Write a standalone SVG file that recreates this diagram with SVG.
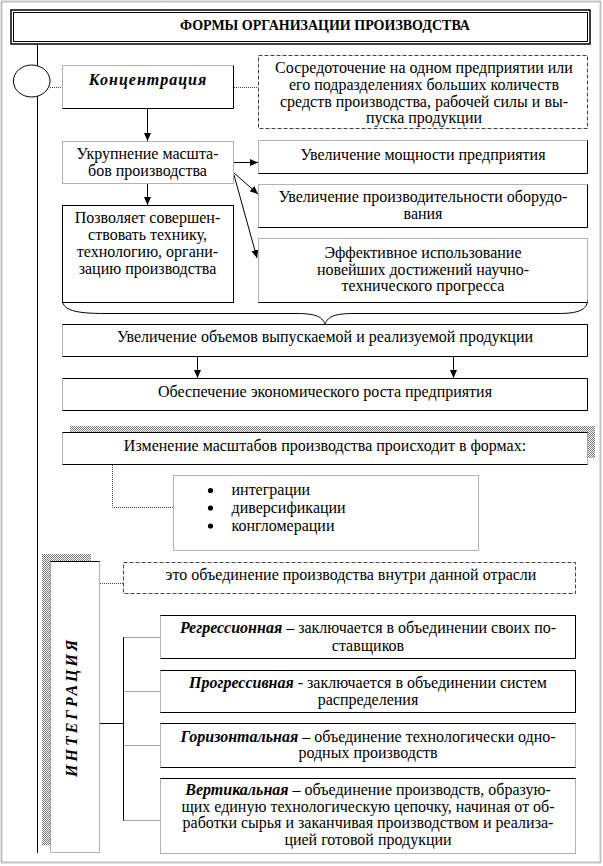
<svg xmlns="http://www.w3.org/2000/svg" width="603" height="866" viewBox="0 0 603 866">
<defs>
<pattern id="hatch" width="2" height="2" patternUnits="userSpaceOnUse"><rect width="2" height="2" fill="#fff"/><rect width="1" height="1" fill="#777"/><rect x="1" y="1" width="1" height="1" fill="#777"/></pattern>
<marker id="ar" viewBox="0 0 8 8" refX="8" refY="4" markerWidth="8" markerHeight="8" markerUnits="userSpaceOnUse" orient="auto"><path d="M0,0.5 L8,4 L0,7.5 Z" fill="#000"/></marker>
<style>
.bx{fill:#fff;stroke:#666;stroke-width:1;stroke-dasharray:1 1}
.sd{fill:none;stroke:#000;stroke-width:1}
.sb{fill:#fff;stroke:#000;stroke-width:1}
.ds{fill:#fff;stroke:#444;stroke-width:1;stroke-dasharray:4 2}
.t{font-family:'Liberation Serif','Times New Roman',serif;font-size:16px;fill:#000;text-anchor:middle}
.b{font-weight:bold;font-style:italic}
.ln{fill:none;stroke:#000;stroke-width:1}
.dl{fill:none;stroke:#444;stroke-width:1;stroke-dasharray:1 1}
.arw{fill:none;stroke:#000;stroke-width:1;marker-end:url(#ar)}
</style>
</defs>
<rect x="0" y="0" width="603" height="866" fill="#fff"/>
<rect x="1.5" y="1.5" width="599" height="861" fill="none" stroke="#888" stroke-width="2" stroke-dasharray="1 1"/>

<g id="connectors">
<line class="ln" x1="37.5" y1="44" x2="37.5" y2="853"/>
<line class="dl" x1="50" y1="87.5" x2="62" y2="87.5"/>
<line class="dl" x1="234" y1="87.5" x2="258" y2="87.5"/>
<line class="arw" x1="147.5" y1="109" x2="147.5" y2="141"/>
<line class="arw" x1="147.5" y1="184" x2="147.5" y2="205"/>
<line class="arw" x1="234" y1="162.5" x2="258" y2="162.5"/>
<line class="arw" x1="234" y1="173" x2="258" y2="194"/>
<line class="arw" x1="234" y1="175" x2="257" y2="258"/>
<path class="ln" d="M62.5,300 C62.5,310 75,313.5 105,313.5 L296,313.5 C314,313.5 322,316 325,324 C328,316 336,313.5 354,313.5 L558,313.5 C578,313.5 587.5,310 587.5,300"/>
<line class="arw" x1="197.5" y1="357" x2="197.5" y2="378"/>
<line class="arw" x1="453.5" y1="357" x2="453.5" y2="378"/>
<path class="dl" d="M112.5,465 V507.5 H173"/>
<line class="dl" x1="100" y1="583.5" x2="123" y2="583.5"/>
<line class="ln" x1="100" y1="723.5" x2="123.5" y2="723.5"/>
<line class="ln" x1="123.5" y1="637" x2="123.5" y2="820.5"/>
<line class="dl" x1="123.5" y1="637.5" x2="160" y2="637.5"/>
<line class="dl" x1="123.5" y1="691.5" x2="160" y2="691.5"/>
<line class="dl" x1="123.5" y1="745.5" x2="160" y2="745.5"/>
<line class="dl" x1="123.5" y1="820.5" x2="160" y2="820.5"/>
</g>

<g id="title">
<rect x="11" y="10" width="579" height="34" fill="#fff" stroke="#000" stroke-width="1.5"/>
<rect x="13.5" y="12.5" width="574" height="29" fill="none" stroke="#000" stroke-width="1"/>
<text class="t" x="325" y="30" style="font-size:14px;font-weight:bold">ФОРМЫ ОРГАНИЗАЦИИ ПРОИЗВОДСТВА</text>
</g>

<g id="circle">
<ellipse cx="31.7" cy="81" rx="18.3" ry="16" fill="#fff" stroke="#000" stroke-width="1"/>
</g>

<g id="koncentraciya">
<rect class="bx" x="62.5" y="65.5" width="171" height="43"/>
<path class="sd" d="M233.5,65.5 V108.5 H62.5"/>
<text class="t b" x="148" y="85" letter-spacing="1">Концентрация</text>
</g>

<g id="opisanie">
<rect class="ds" x="258.5" y="55.5" width="329" height="73"/>
<text class="t" x="424" y="73">Сосредоточение на одном предприятии или</text>
<text class="t" x="424" y="90">его подразделениях больших количеств</text>
<text class="t" x="424" y="107">средств производства, рабочей силы и вы-</text>
<text class="t" x="424" y="123">пуска продукции</text>
</g>

<g id="ukrupnenie">
<rect class="bx" x="62.5" y="141.5" width="171" height="42"/>
<text class="t" x="147.5" y="159">Укрупнение масшта-</text>
<text class="t" x="147.5" y="176">бов производства</text>
</g>

<g id="pozvolyaet">
<rect class="sb" x="62.5" y="205.5" width="171" height="97"/>
<text class="t" x="147.5" y="223">Позволяет совершен-</text>
<text class="t" x="147.5" y="240">ствовать технику,</text>
<text class="t" x="147.5" y="257">технологию, органи-</text>
<text class="t" x="147.5" y="274">зацию производства</text>
</g>

<g id="moshnost">
<rect class="bx" x="258.5" y="140.5" width="329" height="33"/>
<path class="sd" d="M587.5,140.5 V173.5 H258.5"/>
<text class="t" x="423" y="160">Увеличение мощности предприятия</text>
</g>

<g id="proizvoditelnost">
<rect class="bx" x="258.5" y="184.5" width="329" height="43"/>
<path class="sd" d="M587.5,184.5 V227.5 H258.5"/>
<text class="t" x="423" y="202">Увеличение производительности оборудо-</text>
<text class="t" x="423" y="219">вания</text>
</g>

<g id="effektivnoe">
<rect class="bx" x="258.5" y="238.5" width="329" height="64"/>
<path class="sd" d="M587.5,302.5 H258.5"/>
<text class="t" x="423" y="258">Эффективное использование</text>
<text class="t" x="423" y="275">новейших достижений научно-</text>
<text class="t" x="423" y="291">технического прогресса</text>
</g>

<g id="obem">
<rect class="bx" x="62.5" y="324.5" width="525" height="32"/>
<path class="sd" d="M62.5,324.5 H587.5 V356.5 H62.5"/>
<text class="t" x="325" y="342">Увеличение объемов выпускаемой и реализуемой продукции</text>
</g>

<g id="rost">
<rect class="bx" x="62.5" y="378.5" width="525" height="32"/>
<path class="sd" d="M62.5,378.5 H587.5 V410.5 H62.5"/>
<text class="t" x="325" y="397">Обеспечение экономического роста предприятия</text>
</g>

<g id="izmenenie">
<rect x="70" y="426" width="525" height="32" fill="url(#hatch)"/>
<rect class="bx" x="62.5" y="432.5" width="525" height="32"/>
<path class="sd" d="M62.5,432.5 H587.5 M587.5,464.5 H62.5"/>
<text class="t" x="325" y="451">Изменение масштабов производства происходит в формах:</text>
</g>

<g id="formy">
<rect class="bx" x="173.5" y="475.5" width="305" height="75"/>
<circle cx="210.5" cy="490.5" r="2.6" fill="#000"/>
<circle cx="210.5" cy="508" r="2.6" fill="#000"/>
<circle cx="210.5" cy="526" r="2.6" fill="#000"/>
<text class="t" x="231.5" y="495" style="text-anchor:start">интеграции</text>
<text class="t" x="231.5" y="513" style="text-anchor:start">диверсификации</text>
<text class="t" x="231.5" y="531" style="text-anchor:start">конгломерации</text>
</g>

<g id="integraciya">
<rect x="42" y="554" width="49" height="291" fill="url(#hatch)"/>
<rect class="bx" x="50.5" y="561.5" width="49" height="291"/>
<path class="sd" d="M50.5,561.5 H99.5"/>
<text class="t b" transform="translate(77,707) rotate(-90)" letter-spacing="3">ИНТЕГРАЦИЯ</text>
</g>

<g id="opredelenie">
<rect class="ds" x="123.5" y="562.5" width="452" height="31"/>
<text class="t" x="351" y="580">это объединение производства внутри данной отрасли</text>
</g>

<g id="regressionnaya">
<rect class="bx" x="160.5" y="615.5" width="415" height="43"/>
<path class="sd" d="M160.5,615.5 H575.5 V658.5 H160.5"/>
<text class="t" x="368" y="633"><tspan class="b">Регрессионная</tspan> – заключается в объединении своих по-</text>
<text class="t" x="368" y="651">ставщиков</text>
</g>

<g id="progressivnaya">
<rect class="bx" x="160.5" y="670.5" width="415" height="42"/>
<path class="sd" d="M160.5,670.5 H575.5 V712.5 H160.5"/>
<text class="t" x="368" y="688"><tspan class="b">Прогрессивная</tspan> - заключается в объединении систем</text>
<text class="t" x="368" y="705">распределения</text>
</g>

<g id="gorizontalnaya">
<rect class="bx" x="160.5" y="723.5" width="415" height="44"/>
<path class="sd" d="M160.5,723.5 H575.5 M575.5,767.5 H160.5"/>
<text class="t" x="368" y="742"><tspan class="b">Горизонтальная</tspan> – объединение технологически одно-</text>
<text class="t" x="368" y="758">родных производств</text>
</g>

<g id="vertikalnaya">
<rect class="bx" x="160.5" y="778.5" width="415" height="75"/>
<path class="sd" d="M160.5,778.5 H575.5"/>
<text class="t" x="368" y="795"><tspan class="b">Вертикальная</tspan> – объединение производств, образую-</text>
<text class="t" x="368" y="812">щих единую технологическую цепочку, начиная от об-</text>
<text class="t" x="368" y="828">работки сырья и заканчивая производством и реализа-</text>
<text class="t" x="368" y="845">цией готовой продукции</text>
</g>
</svg>
